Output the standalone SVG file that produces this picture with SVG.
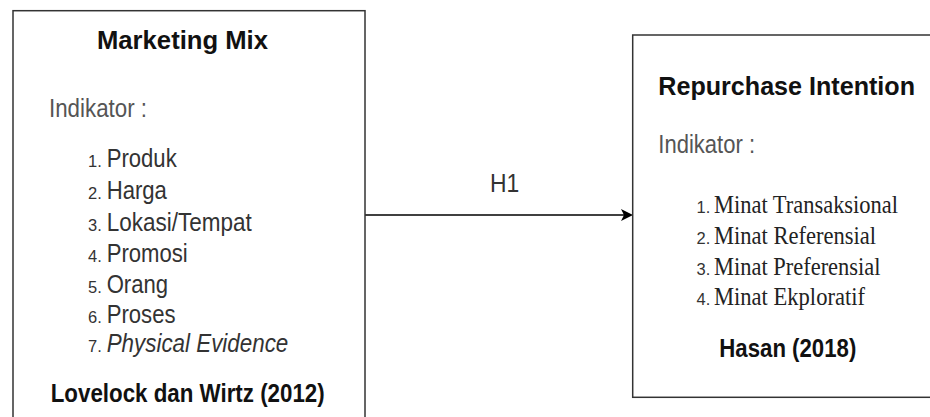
<svg xmlns="http://www.w3.org/2000/svg" width="930" height="417" viewBox="0 0 930 417">
<style>
.box{fill:#fff;stroke:#333;stroke-width:1.5}
.h{font-family:"Liberation Sans",Arial,sans-serif;font-weight:bold;fill:#111;font-size:26px}
.ind{font-family:"Liberation Sans",Arial,sans-serif;fill:#555;font-size:26px}
.it{font-family:"Liberation Sans",Arial,sans-serif;fill:#333;font-size:25px}
.num{font-family:"Liberation Sans",Arial,sans-serif;fill:#333;font-size:16.5px}
.ser{font-family:"Liberation Serif","Times New Roman",serif;fill:#222;font-size:25px}
.lbl{font-family:"Liberation Sans",Arial,sans-serif;fill:#333;font-size:26px}
.conn{stroke:#000;stroke-width:1.6;fill:none}
</style>
<rect width="930" height="417" fill="#fff"/>
<g id="connectors">
<line class="conn" x1="365" y1="215" x2="625" y2="215"/>
<polygon points="633,215 621,209 624,215 621,221" fill="#000"/>
<text class="lbl" x="490" y="192.3" textLength="29.3" lengthAdjust="spacingAndGlyphs">H1</text>
</g>
<g id="marketing-mix">
<rect class="box" x="13" y="10.7" width="352" height="420"/>
<text class="h" x="97" y="49.3" textLength="171" lengthAdjust="spacingAndGlyphs">Marketing Mix</text>
<text class="ind" x="49" y="116.7" textLength="98" lengthAdjust="spacingAndGlyphs">Indikator :</text>
<text class="num" x="88" y="166.5">1.</text>
<text class="it" x="106.7" y="166.5" textLength="70" lengthAdjust="spacingAndGlyphs">Produk</text>
<text class="num" x="88" y="199">2.</text>
<text class="it" x="106.7" y="199" textLength="60.2" lengthAdjust="spacingAndGlyphs">Harga</text>
<text class="num" x="88" y="230.5">3.</text>
<text class="it" x="106.7" y="230.5" textLength="145" lengthAdjust="spacingAndGlyphs">Lokasi/Tempat</text>
<text class="num" x="88" y="261.5">4.</text>
<text class="it" x="106.7" y="261.5" textLength="81" lengthAdjust="spacingAndGlyphs">Promosi</text>
<text class="num" x="88" y="292.5">5.</text>
<text class="it" x="106.7" y="292.5" textLength="61.4" lengthAdjust="spacingAndGlyphs">Orang</text>
<text class="num" x="88" y="323">6.</text>
<text class="it" x="106.7" y="323" textLength="68.8" lengthAdjust="spacingAndGlyphs">Proses</text>
<text class="num" x="88" y="352">7.</text>
<text class="it" x="106.7" y="352" font-style="italic" textLength="181.6" lengthAdjust="spacingAndGlyphs">Physical Evidence</text>
<text class="h" x="50.7" y="401.7" textLength="274" lengthAdjust="spacingAndGlyphs">Lovelock dan Wirtz (2012)</text>
</g>
<g id="repurchase-intention">
<rect class="box" x="632.7" y="35" width="320" height="362.3"/>
<text class="h" x="658.3" y="95" textLength="256.7" lengthAdjust="spacingAndGlyphs">Repurchase Intention</text>
<text class="ind" x="658.3" y="153.3" textLength="96.7" lengthAdjust="spacingAndGlyphs">Indikator :</text>
<text class="num" x="696.5" y="213">1.</text>
<text class="ser" x="714" y="213" textLength="184" lengthAdjust="spacingAndGlyphs">Minat Transaksional</text>
<text class="num" x="696.5" y="244.3">2.</text>
<text class="ser" x="714" y="244.3" textLength="162" lengthAdjust="spacingAndGlyphs">Minat Referensial</text>
<text class="num" x="696.5" y="274.8">3.</text>
<text class="ser" x="714" y="274.8" textLength="166.5" lengthAdjust="spacingAndGlyphs">Minat Preferensial</text>
<text class="num" x="696.5" y="305.3">4.</text>
<text class="ser" x="714" y="305.3" textLength="151" lengthAdjust="spacingAndGlyphs">Minat Ekploratif</text>
<text class="h" x="719.3" y="356.7" textLength="137" lengthAdjust="spacingAndGlyphs">Hasan (2018)</text>
</g>
</svg>
